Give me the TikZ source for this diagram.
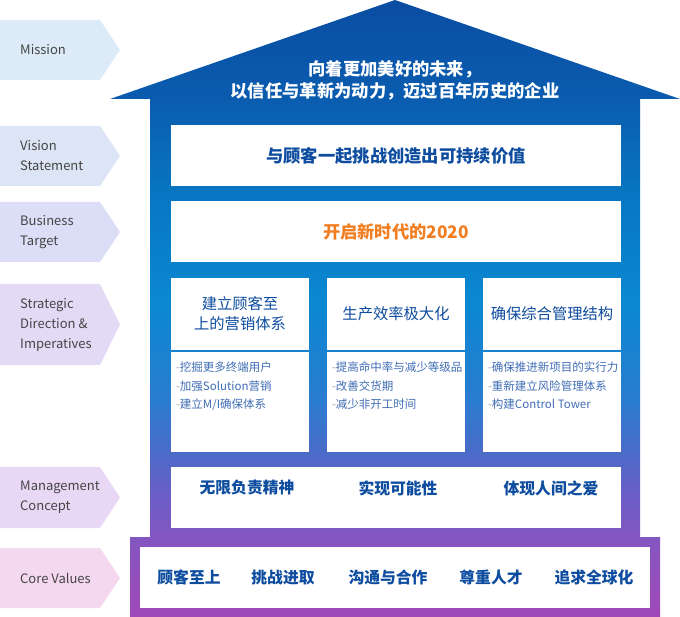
\documentclass[tikz,border=0pt]{standalone}
\usepackage{fontspec}
\setmainfont{Noto Sans CJK SC}
\usetikzlibrary{positioning}

\definecolor{roofblue}{HTML}{0A4DA2}
\definecolor{upblue}{HTML}{0A5CAF}
\definecolor{skyblue}{HTML}{0877C3}
\definecolor{midblue}{HTML}{0A88D0}
\definecolor{lowblue}{HTML}{2A7CD0}
\definecolor{indigo}{HTML}{4A6CC8}
\definecolor{violetmid}{HTML}{6A5EC8}
\definecolor{plum}{HTML}{8655C0}
\definecolor{basepurple}{HTML}{A048B8}
\definecolor{textblue}{HTML}{0D4C9E}
\definecolor{listblue}{HTML}{3F6DB4}
\definecolor{dashgray}{HTML}{9AA6B8}
\definecolor{targetorange}{HTML}{F27E22}
\definecolor{taggray}{HTML}{454545}
\definecolor{tagA}{HTML}{DCEBF7}
\definecolor{tagB}{HTML}{DCE5F6}
\definecolor{tagC}{HTML}{DCDDF6}
\definecolor{tagD}{HTML}{E3DAF6}
\definecolor{tagE}{HTML}{E9D8F5}
\definecolor{tagF}{HTML}{F3D8F0}

\pgfdeclareverticalshading{housefade}{100bp}{color(0bp)=(basepurple); color(25bp)=(basepurple); color(31bp)=(plum); color(35bp)=(violetmid); color(38.5bp)=(indigo); color(42.5bp)=(lowblue); color(50.5bp)=(midblue); color(59bp)=(skyblue); color(67bp)=(upblue); color(75bp)=(roofblue); color(100bp)=(roofblue)}

\newcommand{\lvltag}[5]{% #1 = name, #2 = top, #3 = bottom, #4 = fill, #5 = text
  \fill[#4] (0,#2) -- (100,#2) -- (120,{(#2+#3)/2}) -- (100,#3) -- (0,#3) -- cycle;
  \node[tagtext] (#1) at (20,{(#2+#3)/2}) {#5};
}
\newcommand{\itm}[1]{{\color{dashgray}-}#1}

\tikzset{
    tagtext/.style={anchor=west, align=left, inner sep=0pt, text=taggray, font=\fontsize{13}{20}\selectfont},
    panel/.style={fill=white, inner sep=0pt, align=center, text=textblue},
    wide/.style={panel, minimum width=450pt, minimum height=61pt, font=\bfseries\fontsize{17.3}{22}\selectfont},
    head/.style={panel, minimum width=138pt, minimum height=72pt, font=\fontsize{15.3}{20}\selectfont},
    listbox/.style={panel, minimum width=138pt, minimum height=100pt},
    items/.style={anchor=north west, align=left, inner sep=0pt, text=listblue, font=\fontsize{11.5}{18.5}\selectfont},
    value/.style={inner sep=0pt, text=textblue, font=\bfseries\fontsize{15.8}{20}\selectfont},
    }

\begin{document}
\begin{tikzpicture}[x=1pt, y=-1pt]
    \useasboundingbox (0,0) rectangle (680,617);

    % level tags
    \lvltag{tmission}{20}{80}{tagA}{Mission}
    \lvltag{tvision}{126}{186}{tagB}{Vision\\Statement}
    \lvltag{tbusiness}{202}{262}{tagC}{Business\\Target}
    \lvltag{tstrategy}{284}{365}{tagD}{Strategic\\Direction \&\\Imperatives}
    \lvltag{tmanage}{467}{528}{tagE}{Management\\Concept}
    \lvltag{tcore}{548}{608}{tagF}{Core Values}

    % house
    \shade[shading=housefade] (110,99) -- (395,0) -- (680,99) -- (640,99) -- (640,537) -- (660,537)
        -- (660,617) -- (130,617) -- (130,537) -- (150,537) -- (150,99) -- cycle;

    \node[align=center, inner sep=0pt, text=white, font=\bfseries\fontsize{17.3}{22}\selectfont] (mission) at (395,80)
        {向着更加美好的未来，\\以信任与革新为动力，迈过百年历史的企业};

    \node[wide] (vision) at (396,155.5) {与顾客一起挑战创造出可持续价值};
    \node[wide, text=targetorange] (target) at (396,231.5) {开启新时代的2020};

    % strategic boxes
    \node[head] (head1) at (240,314) {建立顾客至\\上的营销体系};
    \node[head] (head2) at (396,314) {生产效率极大化};
    \node[head] (head3) at (552,314) {确保综合管理结构};

    \node[listbox] (list1) at (240,402) {};
    \node[listbox] (list2) at (396,402) {};
    \node[listbox] (list3) at (552,402) {};

    \node[items, below right=10pt and 5pt of list1.north west] (items1)
        {\itm{挖掘更多终端用户}\\\itm{加强Solution营销}\\\itm{建立M/I确保体系}};
    \node[items, below right=10pt and 5pt of list2.north west] (items2)
        {\itm{提高命中率与减少等级品}\\\itm{改善交货期}\\\itm{减少非开工时间}};
    \node[items, below right=10pt and 5pt of list3.north west] (items3)
        {\itm{确保推进新项目的实行力}\\\itm{重新建立风险管理体系}\\\itm{构建Control Tower}};

    % management concept
    \node[wide] (concept) at (396,497.5) {};
    \node[value] (c1) at (247,488) {无限负责精神};
    \node[value] (c2) at (398,488) {实现可能性};
    \node[value] (c3) at (551,488) {体现人间之爱};

    % core values
    \node[wide, minimum width=510pt] (core) at (395,577.5) {};
    \node[value] (v1) at (189,577.5) {顾客至上};
    \node[value] (v2) at (283,577.5) {挑战进取};
    \node[value] (v3) at (388,577.5) {沟通与合作};
    \node[value] (v4) at (491,577.5) {尊重人才};
    \node[value] (v5) at (594,577.5) {追求全球化};

\end{tikzpicture}
\end{document}
